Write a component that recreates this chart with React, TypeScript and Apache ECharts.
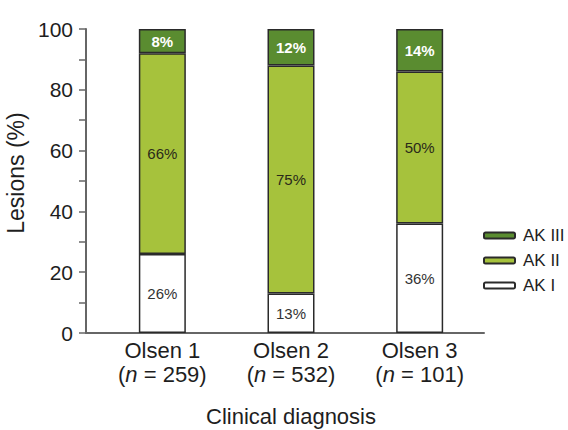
import React, { useEffect, useRef } from "react";
import * as echarts from "echarts";

const categories = ["Olsen 1", "Olsen 2", "Olsen 3"];
const sampleSizes = [259, 532, 101];
const akI = [26, 13, 36];
const akII = [66, 75, 50];
const akIII = [8, 12, 14];
const yTicks = [0, 20, 40, 60, 80, 100];

const FONT = "'Liberation Sans', Arial, sans-serif";
const TXT = "#1e1e1e";

export default function App() {
  const ref = useRef<HTMLDivElement>(null);
  useEffect(() => {
    document.body.style.margin = "0";
    const chart = echarts.init(ref.current!, null, { renderer: "svg" });
    const sizeMap: Record<string, number> = {};
    categories.forEach((c, i) => (sizeMap[c] = sampleSizes[i]));
    const barCommon = {
      type: "bar",
      stack: "total",
      xAxisIndex: 1,
      yAxisIndex: 1,
      barWidth: 47,
    };
    chart.setOption({
      animation: false,
      textStyle: { fontFamily: FONT },
      grid: [
        { left: 86, top: 29, width: 398, height: 304, outerBoundsMode: "none" },
        { left: 98, top: 29, width: 386, height: 304, outerBoundsMode: "none" },
      ],
      legend: {
        orient: "vertical",
        left: 478,
        top: 222,
        itemWidth: 31,
        itemHeight: 6,
        itemGap: 8,
        data: ["AK III", "AK II", "AK I"],
        textStyle: { fontFamily: FONT, fontSize: 17, color: TXT, padding: [0, 0, 0, 3] },
      },
      xAxis: [
        {
          type: "value",
          gridIndex: 0,
          min: 0,
          max: 1,
          axisLine: { show: true, lineStyle: { color: "#666", width: 2 } },
          axisTick: { show: false },
          axisLabel: { show: false },
          splitLine: { show: false },
        },
        {
          type: "category",
          gridIndex: 1,
          data: categories,
          axisLine: { show: false },
          axisTick: { show: false },
          axisLabel: {
            interval: 0,
            hideOverlap: false,
            margin: 5,
            color: TXT,
            fontSize: 22,
            lineHeight: 24,
            fontFamily: FONT,
            formatter: (v: string) => `${v}\n({i|n} = ${sizeMap[v]})`,
            rich: {
              i: { fontStyle: "italic", fontSize: 22, lineHeight: 24, fontFamily: FONT, color: TXT },
            },
          },
          name: "Clinical diagnosis",
          nameLocation: "middle",
          nameGap: 72,
          nameTextStyle: { fontSize: 22, color: TXT, fontFamily: FONT },
        },
      ],
      yAxis: [
        {
          type: "value",
          gridIndex: 0,
          min: 0,
          max: 100,
          interval: 10,
          axisLine: { show: true, lineStyle: { color: "#666", width: 2 } },
          axisTick: { show: true, length: 7, lineStyle: { color: "#666", width: 1.5 } },
          axisLabel: {
            margin: 13,
            color: TXT,
            fontSize: 21,
            fontFamily: FONT,
            formatter: (v: number) => (yTicks.includes(v) ? String(v) : ""),
          },
          splitLine: { show: false },
          name: "Lesions (%)",
          nameLocation: "middle",
          nameGap: 49,
          nameTextStyle: {
            fontSize: 23,
            color: TXT,
            fontFamily: FONT,
            padding: [0, 0, 0, 16],
          },
        },
        {
          type: "value",
          gridIndex: 1,
          min: 0,
          max: 100,
          show: false,
        },
      ],
      series: [
        {
          ...barCommon,
          name: "AK I",
          data: akI,
          itemStyle: { color: "#ffffff", borderColor: "#2a2a2a", borderWidth: 1.5 },
          label: {
            show: true,
            position: "inside",
            formatter: "{c}%",
            fontSize: 15,
            color: "#333",
            fontFamily: FONT,
          },
        },
        {
          ...barCommon,
          name: "AK II",
          data: akII,
          itemStyle: { color: "#a6c23c", borderColor: "#2a2a2a", borderWidth: 1.5 },
          label: {
            show: true,
            position: "inside",
            formatter: "{c}%",
            fontSize: 15,
            color: "#2a2a1a",
            fontFamily: FONT,
          },
        },
        {
          ...barCommon,
          name: "AK III",
          data: akIII,
          itemStyle: { color: "#5a8c30", borderColor: "#2a2a2a", borderWidth: 1.5 },
          label: {
            show: true,
            position: "inside",
            formatter: "{c}%",
            fontSize: 15,
            fontWeight: "bold",
            color: "#ffffff",
            fontFamily: FONT,
          },
        },
      ],
    });
    return () => chart.dispose();
  }, []);
  return <div ref={ref} style={{ width: 568, height: 430 }} />;
}
